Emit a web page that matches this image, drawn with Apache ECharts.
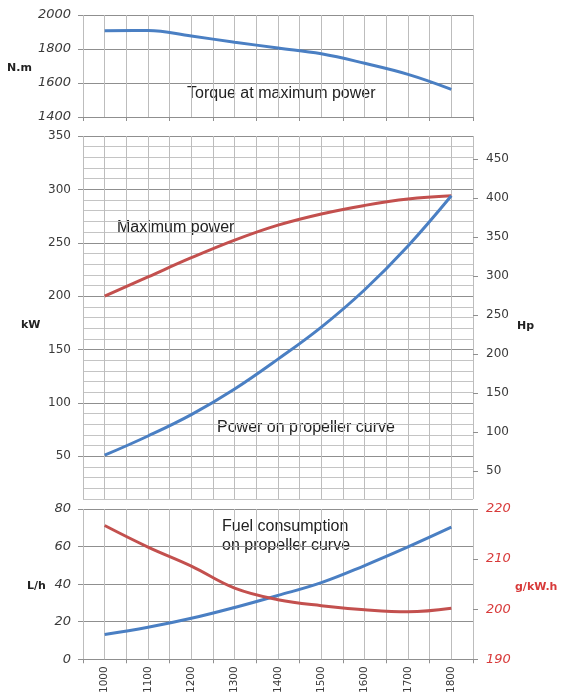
<!DOCTYPE html>
<html>
<head>
<meta charset="utf-8">
<script src="https://cdn.jsdelivr.net/npm/echarts@6/dist/echarts.min.js"></script>
<style>
html,body{margin:0;padding:0;background:#fff;}
#chart{width:561px;height:696px;}
</style>
</head>
<body>
<div id="chart"></div>
<script>
// ---- data ----
var rpm = [1000, 1100, 1200, 1300, 1400, 1500, 1600, 1700, 1800];
var torqueNm = [1908, 1909, 1876, 1840, 1806, 1772, 1716, 1651, 1563];
var maxPowerKw = [200, 218, 236, 252.5, 266.5, 277, 285, 291, 294];
var propPowerKw = [51, 69, 89, 113, 141, 171, 206, 247, 294];
var fuelLh = [13.2, 17, 21.8, 27.6, 34, 40.8, 49.9, 59.8, 70.3];
var specFuel = [216.7, 212.4, 208.6, 204.2, 201.9, 200.7, 199.9, 199.5, 200.2];
var rpmTicks = [950, 1050, 1150, 1250, 1350, 1450, 1550, 1650, 1750, 1850];
var hpTicks = [50, 100, 150, 200, 250, 300, 350, 400, 450];
var kwTicks = [50, 100, 150, 200, 250, 300, 350];

function pairs(ys) { return rpm.map(function (x, i) { return [x, ys[i]]; }); }

var BLUE = '#4a7fc3', RED = '#c3504e';
var VGRID = '#bdbdbd', HMAJ = '#8f8f8f', HMIN = '#c4c4c4';
var LBL = '#3a3a3a', TICK = '#8f8f8f';
var NUMFONT = 'DejaVu Sans';
var SM = 0.4;

var L = 83, W = 390;

function xGridAxis(gi, showLabels) {
  return {
    type: 'value', gridIndex: gi, min: 950, max: 1850, interval: 50,
    axisLine: { show: false },
    axisTick: { show: false },
    splitLine: { show: true, lineStyle: { color: VGRID, width: 1 } },
    axisLabel: {
      show: showLabels, rotate: 90, margin: 7, color: LBL, fontSize: 10.5, fontFamily: NUMFONT,
      formatter: function (v) { return (v % 100 === 0) ? String(v) : ''; }
    }
  };
}
function xTickAxis(gi) {
  return {
    type: 'value', gridIndex: gi, position: 'bottom', min: 950, max: 1850,
    axisLine: { show: false },
    axisTick: { show: true, customValues: rpmTicks, length: 4, lineStyle: { color: TICK } },
    splitLine: { show: false },
    axisLabel: { show: false }
  };
}

var option = {
  backgroundColor: '#fff',
  animation: false,
  grid: [
    { left: L, width: W, top: 15, height: 102 },
    { left: L, width: W, top: 136, height: 363 },
    { left: L, width: W, top: 509, height: 152 }
  ],
  xAxis: [xGridAxis(0, false), xGridAxis(1, false), xGridAxis(2, true), xTickAxis(0), xTickAxis(2)],
  yAxis: [
    { type: 'value', gridIndex: 0, min: 1400, max: 2000, interval: 200,
      axisLine: { show: false },
      axisTick: { show: true, length: 5, lineStyle: { color: TICK } },
      splitLine: { lineStyle: { color: HMAJ, width: 1.2 } },
      axisLabel: { margin: 12, color: LBL, fontSize: 13, fontStyle: 'italic', fontFamily: NUMFONT,
        formatter: function (v) { return String(v); } } },
    { type: 'value', gridIndex: 1, min: 10, max: 350, interval: 10,
      axisLine: { show: false },
      axisTick: { show: false },
      splitLine: { lineStyle: { color: [HMIN, HMIN, HMIN, HMIN, HMAJ], width: 1.2 } },
      axisLabel: { margin: 12, color: LBL, fontSize: 12, fontFamily: NUMFONT,
        formatter: function (v) { return (v % 50 === 0) ? String(v) : ''; } } },
    { type: 'value', gridIndex: 1, position: 'right', min: 10 * 480 / 350, max: 480,
      axisLine: { show: false },
      axisTick: { show: true, customValues: hpTicks, length: 5, lineStyle: { color: TICK } },
      splitLine: { show: false },
      axisLabel: { customValues: hpTicks, margin: 13, color: LBL, fontSize: 12, fontFamily: NUMFONT } },
    { type: 'value', gridIndex: 2, min: 0, max: 80, interval: 20,
      axisLine: { show: false },
      axisTick: { show: true, length: 5, lineStyle: { color: TICK } },
      splitLine: { lineStyle: { color: HMAJ, width: 1.2 } },
      axisLabel: { margin: 12, color: LBL, fontSize: 13, fontStyle: 'italic', fontFamily: NUMFONT } },
    { type: 'value', gridIndex: 2, position: 'right', min: 190, max: 220, interval: 10,
      axisLine: { show: false },
      axisTick: { show: true, length: 5, lineStyle: { color: TICK } },
      splitLine: { show: false },
      axisLabel: { margin: 13, color: '#d83a3a', fontSize: 13, fontStyle: 'italic', fontFamily: NUMFONT } },
    { type: 'value', gridIndex: 1, position: 'left', min: 10, max: 350,
      axisLine: { show: false },
      axisTick: { show: true, customValues: kwTicks, length: 5, lineStyle: { color: TICK } },
      splitLine: { show: false },
      axisLabel: { show: false } }
  ],
  series: [
    { type: 'line', xAxisIndex: 0, yAxisIndex: 0, data: pairs(torqueNm), smooth: SM, showSymbol: false,
      lineStyle: { color: BLUE, width: 3 } },
    { type: 'line', xAxisIndex: 1, yAxisIndex: 1, data: pairs(maxPowerKw), smooth: SM, showSymbol: false,
      lineStyle: { color: RED, width: 3 } },
    { type: 'line', xAxisIndex: 1, yAxisIndex: 1, data: pairs(propPowerKw), smooth: SM, showSymbol: false,
      lineStyle: { color: BLUE, width: 3 } },
    { type: 'line', xAxisIndex: 2, yAxisIndex: 3, data: pairs(fuelLh), smooth: SM, showSymbol: false,
      lineStyle: { color: BLUE, width: 3 } },
    { type: 'line', xAxisIndex: 2, yAxisIndex: 4, data: pairs(specFuel), smooth: SM, showSymbol: false,
      lineStyle: { color: RED, width: 3 } }
  ],
  graphic: [
    { type: 'text', x: 7, y: 68, style: { text: 'N.m', fontSize: 11, fontWeight: 'bold', fontFamily: NUMFONT, fill: '#222', verticalAlign: 'middle' } },
    { type: 'text', x: 21, y: 325, style: { text: 'kW', fontSize: 11, fontWeight: 'bold', fontFamily: NUMFONT, fill: '#222', verticalAlign: 'middle' } },
    { type: 'text', x: 517, y: 326, style: { text: 'Hp', fontSize: 11, fontWeight: 'bold', fontFamily: NUMFONT, fill: '#222', verticalAlign: 'middle' } },
    { type: 'text', x: 27, y: 586, style: { text: 'L/h', fontSize: 11, fontWeight: 'bold', fontFamily: NUMFONT, fill: '#222', verticalAlign: 'middle' } },
    { type: 'text', x: 515, y: 587, style: { text: 'g/kW.h', fontSize: 11, fontWeight: 'bold', fontFamily: NUMFONT, fill: '#d83a3a', verticalAlign: 'middle' } },
    { type: 'text', x: 187, y: 94, style: { text: 'Torque at maximum power', fontSize: 16, fontFamily: 'Liberation Sans', fill: '#222', verticalAlign: 'middle' } },
    { type: 'text', x: 117, y: 228, style: { text: 'Maximum power', fontSize: 16, fontFamily: 'Liberation Sans', fill: '#222', verticalAlign: 'middle' } },
    { type: 'text', x: 217, y: 428, style: { text: 'Power on propeller curve', fontSize: 16, fontFamily: 'Liberation Sans', fill: '#222', verticalAlign: 'middle' } },
    { type: 'text', x: 222, y: 527, style: { text: 'Fuel consumption', fontSize: 16, fontFamily: 'Liberation Sans', fill: '#222', verticalAlign: 'middle' } },
    { type: 'text', x: 222, y: 546, style: { text: 'on propeller curve', fontSize: 16, fontFamily: 'Liberation Sans', fill: '#222', verticalAlign: 'middle' } }
  ]
};

var chart = echarts.init(document.getElementById('chart'), null, { renderer: 'canvas' });
chart.setOption(option);
</script>
</body>
</html>
